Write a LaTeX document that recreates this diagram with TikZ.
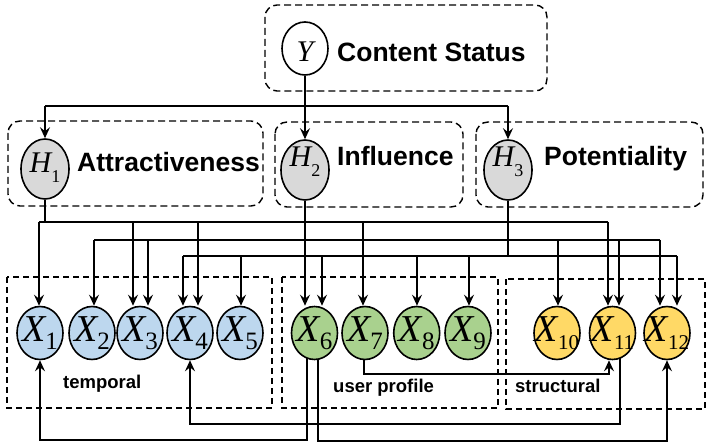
\documentclass[tikz,border=0pt]{standalone}
\usepackage{fontspec}
\setmainfont{Liberation Sans}
\newfontfamily\tms{Liberation Serif}
\usetikzlibrary{shapes.geometric,arrows.meta}
\pgfdeclarelayer{bg}
\pgfsetlayers{bg,main}
\definecolor{cblue}{RGB}{189,215,238}
\definecolor{cgreen}{RGB}{169,209,142}
\definecolor{cyellow}{RGB}{255,217,102}
\definecolor{cgray}{RGB}{217,217,217}
\newcommand{\fs}[1]{\fontsize{#1}{#1}\selectfont}
\newcommand{\xl}[2]{\makebox[0pt]{{\tms\fs{38}\itshape X}\raisebox{-8pt}{\tms\fs{#2}#1}}}
\newcommand{\hl}[1]{\makebox[0pt]{{\tms\fs{30}\itshape H}\raisebox{-10pt}{\tms\fs{18}#1}}}
\begin{document}
\begin{tikzpicture}[x=1pt,y=-1pt,
  conn/.style={line width=1.6pt},
  arr/.style={line width=1.6pt,-{Stealth[length=11pt,width=10pt,inset=4pt]}},
  grp/.style={draw, line width=1.4pt, dash pattern=on 7pt off 4pt, rounded corners=12pt},
  sgrp/.style={draw, line width=1.2pt, dash pattern=on 6pt off 4pt},
  xnode/.style={ellipse, draw, line width=1.6pt, minimum width=46pt, minimum height=53pt, inner sep=0pt, text height=18pt, text depth=0pt},
  hnode/.style={ellipse, draw, line width=1.6pt, fill=cgray, minimum width=48pt, minimum height=60pt, inner sep=0pt},
  big/.style={inner sep=0pt, anchor=base west, font=\bfseries\fs{26.5}},
  small/.style={inner sep=0pt, anchor=base west, font=\bfseries\fs{18.5}},
]
\useasboundingbox (0,0) rectangle (713,446);

% group boxes
\draw[grp] (265,5) rectangle (547,91);
\draw[grp] (8,121) rectangle (263,206);
\draw[grp] (275,122) rectangle (463,207);
\draw[grp] (476,122) rectangle (703,207);
\draw[sgrp] (7,277) rectangle (272,408);
\draw[sgrp] (282,277) rectangle (498,408);
\draw[sgrp] (506,279) rectangle (705,409);

% top nodes
\node[ellipse, draw, line width=1.6pt, fill=white, minimum width=46pt, minimum height=53pt, inner sep=0pt, text height=27pt, text depth=0pt] (Y) at (305,48.5) {\makebox[0pt]{\tms\fs{30}\itshape Y}};
\node[hnode, text height=14pt, text depth=6pt] (H1) at (45,169) {\hl{1}};
\node[hnode, text height=8pt, text depth=14pt] (H2) at (305,170) {\hl{2}};
\node[hnode, text height=8pt, text depth=14pt] (H3) at (508,170) {\hl{3}};

\node[big] (tY) at (337,62) {Content Status};
\node[big] (t1) at (77,172) {Attractiveness};
\node[big] (t2) at (337,166) {Influence};
\node[big] (t3) at (544,166) {Potentiality};

% X nodes
\node[xnode, fill=cblue] (X1) at (40,333) {\xl{1}{25}};
\node[xnode, fill=cblue] (X2) at (92,333) {\xl{2}{25}};
\node[xnode, fill=cblue] (X3) at (140,333) {\xl{3}{25}};
\node[xnode, fill=cblue] (X4) at (190,333) {\xl{4}{25}};
\node[xnode, fill=cblue] (X5) at (240,333) {\xl{5}{25}};
\node[xnode, fill=cgreen] (X6) at (314.5,333) {\xl{6}{25}};
\node[xnode, fill=cgreen] (X7) at (365,333) {\xl{7}{25}};
\node[xnode, fill=cgreen] (X8) at (416.7,333) {\xl{8}{25}};
\node[xnode, fill=cgreen] (X9) at (468,333) {\xl{9}{25}};
\node[xnode, fill=cyellow] (X10) at (557,333) {\xl{10}{21}};
\node[xnode, fill=cyellow] (X11) at (612.5,333) {\xl{11}{21}};
\node[xnode, fill=cyellow] (X12) at (667,333) {\xl{12}{21}};

\node[small] (g1) at (63,389) {temporal};
\node[small] (g2) at (333,393) {user profile};
\node[small] (g3) at (515,393) {structural};

% bus coordinates
\coordinate (busY) at (0,106);
\coordinate (dA1) at (39,222);
\coordinate (dA3) at (133,222);
\coordinate (dA4) at (198,222);
\coordinate (dA7) at (363,222);
\coordinate (dA11) at (608,222);
\coordinate (dB2) at (94,240);
\coordinate (dB3) at (148,240);
\coordinate (dB10) at (558,240);
\coordinate (dB11) at (619,240);
\coordinate (dB12) at (660,240);
\coordinate (dC4) at (183,256);
\coordinate (dC5) at (241,256);
\coordinate (dC6) at (322,256);
\coordinate (dC8) at (417,256);
\coordinate (dC9) at (469,256);
\coordinate (dC12) at (677,256);
\coordinate (lowA) at (0,440);
\coordinate (lowB) at (0,441);
\coordinate (lowC) at (0,424);
\coordinate (lowD) at (0,374);
\coordinate (x6a) at ([xshift=-7.5pt,yshift=3pt]X6.south);
\coordinate (x6b) at ([xshift=3.5pt,yshift=3pt]X6.south);
\coordinate (x11o) at ([xshift=7.5pt,yshift=3pt]X11.south);
\coordinate (x7o) at ([xshift=-1pt,yshift=3pt]X7.south);
\coordinate (x11in) at ([xshift=-3.5pt]X11.south);

\begin{pgfonlayer}{bg}
\fill[white] (0,0) rectangle (713,446);
% Y to H
\draw[conn] (H1.north |- busY) -- (H3.north |- busY);
\draw[arr] (Y) -- (H2);
\draw[arr] (H1.north |- busY) -- (H1.north);
\draw[arr] (H3.north |- busY) -- (H3.north);
% H1 bus
\draw[conn] (H1.south) -- (H1.south |- dA1);
\draw[conn] (dA1) -- (dA11);
\draw[arr] (dA1) -- (dA1 |- X1.north);
\draw[arr] (dA3) -- (dA3 |- X3.north);
\draw[arr] (dA4) -- (dA4 |- X4.north);
\draw[arr] (dA7) -- (dA7 |- X7.north);
\draw[arr] (dA11) -- (dA11 |- X11.north);
% H2 bus
\draw[arr] (H2.south) -- (H2.south |- X6.north);
\draw[conn] (dB2) -- (dB12);
\draw[arr] (dB2) -- (dB2 |- X2.north);
\draw[arr] (dB3) -- (dB3 |- X3.north);
\draw[arr] (dB10) -- (dB10 |- X10.north);
\draw[arr] (dB11) -- (dB11 |- X11.north);
\draw[arr] (dB12) -- (dB12 |- X12.north);
% H3 bus
\draw[conn] (H3.south) -- (H3.south |- dC4);
\draw[conn] (dC4) -- (dC12);
\draw[arr] (dC4) -- (dC4 |- X4.north);
\draw[arr] (dC5) -- (dC5 |- X5.north);
\draw[arr] (dC6) -- (dC6 |- X6.north);
\draw[arr] (dC8) -- (dC8 |- X8.north);
\draw[arr] (dC9) -- (dC9 |- X9.north);
\draw[arr] (dC12) -- (dC12 |- X12.north);
% feedback links
\draw[arr] (x6a) |- (lowA -| X1.south) -- (X1.south);
\draw[arr] (x6b) |- (lowB -| X12.south) -- (X12.south);
\draw[arr] (x11o) |- (lowC -| X4.south) -- (X4.south);
\draw[arr] (x7o) |- (lowD -| x11in) -- (x11in);
\end{pgfonlayer}
\end{tikzpicture}
\end{document}
